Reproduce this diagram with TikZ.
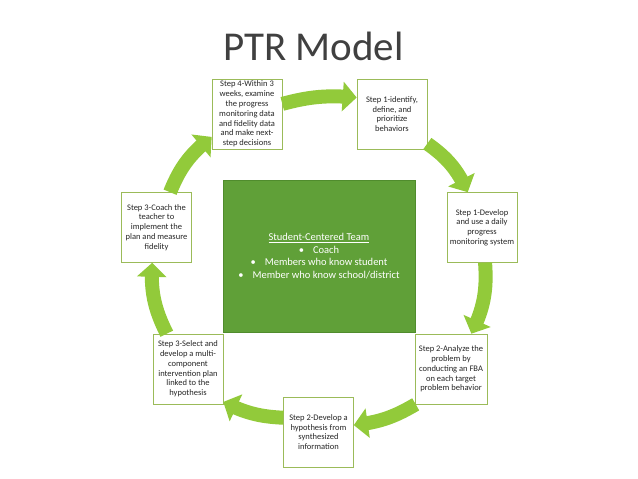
\documentclass[tikz,border=0pt]{standalone}
\usepackage{fontspec}
\setmainfont{Carlito}
\usetikzlibrary{arrows.meta,bending}
\definecolor{arrowgreen}{RGB}{146,202,58}
\definecolor{teamgreen}{RGB}{96,160,56}
\definecolor{teamline}{RGB}{80,140,45}
\definecolor{boxline}{RGB}{155,187,89}
\definecolor{titlegray}{RGB}{64,64,64}
\tikzset{
	stepbox/.style={draw=boxline, fill=white, line width=0.6pt, minimum width=70pt, minimum height=70pt,
		inner sep=1pt, align=center, text=black!85, font=\fontsize{8.5}{9.8}\selectfont},
	cyclearrow/.style={draw=arrowgreen, line width=14pt, -{Triangle[width=29pt,length=14pt,flex]}}
}
\begin{document}
\begin{tikzpicture}[x=1pt,y=-1pt]
			%%%%% START %%%%%
			\useasboundingbox (0,0) rectangle (638,479);
			
			\node[text=titlegray, font=\fontsize{41}{46}\selectfont, anchor=base] (title) at (313.5, 60) {PTR Model};
			
			% centre
			\node[draw=teamline, fill=teamgreen, line width=0.6pt, minimum width=192pt, minimum height=152pt,
				align=center, text=white, font=\fontsize{10.5}{12.8}\selectfont] (team) at (319, 256)
				{\underline{Student-Centered Team}\\ \textbullet\hspace{9pt}Coach\\
				 \textbullet\hspace{9pt}Members who know student\\ \textbullet\hspace{9pt}Member who know school/district};
			
			% steps
			\node[stepbox] (s4) at (247, 114) {Step 4-Within 3\\weeks, examine\\the progress\\monitoring data\\and fidelity data\\and make next-\\step decisions};
			\node[stepbox] (s1a) at (392, 114) {Step 1-identify,\\define, and\\prioritize\\behaviors};
			\node[stepbox] (s1d) at (482, 227.5) {Step 1-Develop\\and use a daily\\progress\\monitoring system};
			\node[stepbox, minimum width=72pt] (s2a) at (451, 369) {Step 2-Analyze the\\problem by\\conducting an FBA\\on each target\\problem behavior};
			\node[stepbox] (hyp) at (318.5, 432) {Step 2-Develop a\\hypothesis from\\synthesized\\information};
			\node[stepbox] (s3s) at (188, 369) {Step 3-Select and\\develop a multi-\\component\\intervention plan\\linked to the\\hypothesis};
			\node[stepbox] (s3c) at (156.5, 227.5) {Step 3-Coach the\\teacher to\\implement the\\plan and measure\\fidelity};
			
			% cycle
			\draw[cyclearrow] (s4.16) to[bend left=10] (s1a.155);
			\draw[cyclearrow] (s1a.-40) to[bend left=15] (s1d.112);
			\draw[cyclearrow] (s1d.-85) to[bend left=15] (s2a.60);
			\draw[cyclearrow] (s2a.-135) to[bend left=12] (hyp.11);
			\draw[cyclearrow] (hyp.158) to[bend left=12] (s3s.-43);
			\draw[cyclearrow] (s3s.121) to[bend left=15] (s3c.-97);
			\draw[cyclearrow] (s3c.69) to[bend left=15] (s4.-147);
			
			%%%%% END %%%%%
\end{tikzpicture}
\end{document}
